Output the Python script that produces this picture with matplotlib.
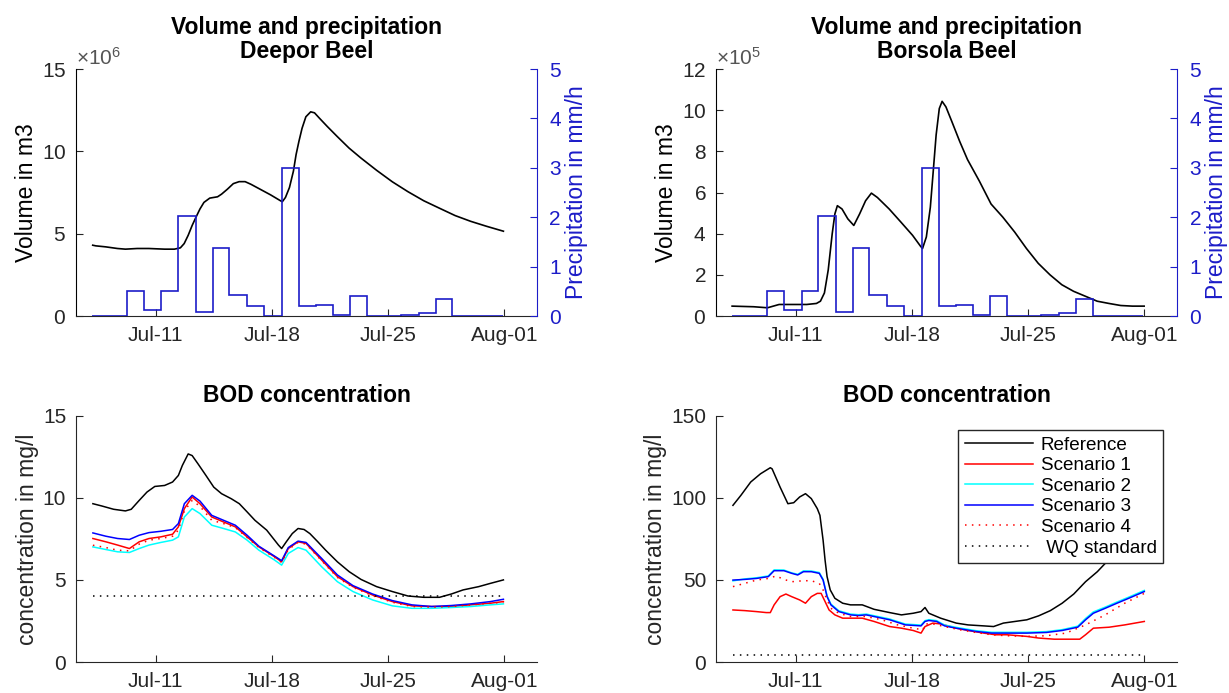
import numpy as np
import pandas as pd
import matplotlib
matplotlib.use("Agg")
import matplotlib.pyplot as plt
import matplotlib.dates as mdates
from matplotlib.ticker import ScalarFormatter

plt.rcParams['font.family'] = ['Liberation Sans', 'DejaVu Sans']
plt.rcParams['mathtext.fontset'] = 'custom'
plt.rcParams['mathtext.rm'] = 'Liberation Sans'

# ---- data (times are day of July, 32 = Aug 1) ----
rain_edges = [7.17, 8.23, 9.29, 10.31, 11.35, 12.37, 13.43, 14.45, 15.44, 16.51, 17.52, 18.59,
              19.63, 20.64, 21.66, 22.72, 23.72, 24.76, 25.8, 26.84, 27.86, 28.88, 29.9, 30.92, 31.95]
rain = [0, 0, 0.5, 0.13, 0.5, 2.03, 0.09, 1.38, 0.43, 0.2, 0, 3.0,
        0.2, 0.23, 0.03, 0.4, 0, 0, 0.03, 0.07, 0.35, 0, 0, 0]

deepor_t = [7.21, 7.40, 7.99, 8.70, 9.18, 9.89, 10.59, 11.54, 12.13, 12.49, 12.72, 12.96, 13.20, 13.43,
            13.67, 13.91, 14.26, 14.73, 14.97, 15.32, 15.68, 16.03, 16.39, 16.74, 17.22, 17.92, 18.52,
            18.63, 18.82, 19.06, 19.30, 19.46, 19.63, 19.82, 20.05, 20.34, 20.57, 20.88, 21.35, 21.94,
            22.65, 23.36, 24.31, 25.26, 26.20, 27.15, 28.09, 29.04, 29.98, 30.93, 31.95]
deepor_vol = [4.3e6, 4.26e6, 4.2e6, 4.1e6, 4.06e6, 4.1e6, 4.1e6, 4.06e6, 4.06e6, 4.14e6, 4.4e6, 4.9e6,
              5.5e6, 6.0e6, 6.5e6, 6.9e6, 7.16e6, 7.24e6, 7.4e6, 7.7e6, 8.04e6, 8.16e6, 8.16e6, 8.0e6,
              7.74e6, 7.36e6, 7.0e6, 6.94e6, 7.2e6, 7.8e6, 8.8e6, 9.8e6, 10.6e6, 11.4e6, 12.1e6, 12.4e6,
              12.34e6, 12.0e6, 11.5e6, 10.9e6, 10.2e6, 9.6e6, 8.85e6, 8.15e6, 7.55e6, 7.0e6, 6.55e6,
              6.1e6, 5.75e6, 5.45e6, 5.15e6]

borsola_t = [7.17, 8.47, 9.30, 10.0, 10.72, 11.66, 12.25, 12.49, 12.73, 12.96, 13.20, 13.36, 13.51,
             13.79, 14.14, 14.50, 14.85, 15.21, 15.56, 15.92, 16.63, 17.34, 18.04, 18.52, 18.64, 18.87,
             19.11, 19.27, 19.46, 19.65, 19.82, 20.05, 20.41, 20.88, 21.35, 22.06, 22.77, 23.48, 24.19,
             24.90, 25.61, 26.32, 27.03, 27.74, 28.45, 29.16, 29.87, 30.58, 31.28, 31.99]
borsola_vol = [0.48e5, 0.45e5, 0.4e5, 0.56e5, 0.56e5, 0.56e5, 0.61e5, 0.72e5, 1.12e5, 2.24e5, 4.0e5,
               4.96e5, 5.36e5, 5.2e5, 4.72e5, 4.4e5, 4.96e5, 5.6e5, 5.97e5, 5.76e5, 5.2e5, 4.56e5,
               3.92e5, 3.39e5, 3.28e5, 3.84e5, 5.28e5, 6.88e5, 8.8e5, 10.08e5, 10.43e5, 10.16e5, 9.44e5,
               8.48e5, 7.6e5, 6.56e5, 5.44e5, 4.8e5, 4.08e5, 3.28e5, 2.56e5, 2.0e5, 1.52e5, 1.2e5,
               0.96e5, 0.72e5, 0.61e5, 0.51e5, 0.48e5, 0.48e5]

# BOD Deepor Beel
d_ref_t = [7.22, 7.76, 8.47, 9.18, 9.53, 10.01, 10.48, 10.95, 11.54, 12.02, 12.37, 12.61, 12.96, 13.20,
           13.55, 14.03, 14.50, 14.97, 15.56, 16.04, 16.51, 16.98, 17.69, 18.40, 18.59, 18.87, 19.23,
           19.58, 19.94, 20.29, 20.77, 21.24, 21.95, 22.66, 23.37, 24.31, 25.26, 26.20, 27.15, 28.10,
           28.81, 29.52, 30.46, 31.17, 31.95]
d_ref = [9.64, 9.5, 9.3, 9.2, 9.3, 9.84, 10.35, 10.69, 10.75, 10.96, 11.36, 11.97, 12.67, 12.57, 12.07,
         11.36, 10.65, 10.25, 9.94, 9.64, 9.14, 8.63, 8.03, 7.12, 6.91, 7.32, 7.82, 8.13, 8.07, 7.82,
         7.32, 6.81, 6.1, 5.5, 5.03, 4.59, 4.29, 4.02, 3.94, 3.94, 4.14, 4.39, 4.59, 4.79, 5.0]
d_scen_t = [7.22, 8.00, 8.71, 9.42, 10.01, 10.60, 11.31, 12.02, 12.37, 12.73, 13.20, 13.67, 14.38, 15.09,
            15.80, 16.51, 17.22, 18.16, 18.59, 18.99, 19.58, 20.06, 21.00, 21.95, 22.89, 24.07, 25.26,
            26.44, 27.62, 28.81, 29.99, 31.17, 31.95]
d_s1 = [7.52, 7.32, 7.12, 6.91, 7.32, 7.52, 7.62, 7.78, 8.23, 9.34, 10.05, 9.64, 8.83, 8.53, 8.23, 7.62,
        7.01, 6.41, 6.1, 6.91, 7.32, 7.22, 6.21, 5.2, 4.59, 4.08, 3.68, 3.42, 3.38, 3.38, 3.48, 3.58, 3.68]
d_s2 = [7.01, 6.85, 6.71, 6.67, 6.91, 7.12, 7.28, 7.42, 7.62, 8.83, 9.34, 9.04, 8.33, 8.13, 7.92, 7.42,
        6.81, 6.21, 5.9, 6.61, 6.97, 6.81, 5.8, 4.89, 4.29, 3.78, 3.42, 3.27, 3.27, 3.32, 3.38, 3.48, 3.54]
d_s3 = [7.86, 7.66, 7.52, 7.46, 7.72, 7.88, 7.96, 8.07, 8.43, 9.64, 10.15, 9.8, 8.93, 8.63, 8.33, 7.72,
        7.05, 6.45, 6.17, 6.97, 7.36, 7.28, 6.31, 5.3, 4.65, 4.14, 3.74, 3.48, 3.38, 3.44, 3.54, 3.68, 3.82]
d_s4 = [7.11, 6.97, 6.81, 6.77, 7.18, 7.42, 7.52, 7.66, 8.03, 9.2, 9.84, 9.48, 8.63, 8.43, 8.19, 7.58,
        6.97, 6.37, 6.06, 6.85, 7.28, 7.18, 6.17, 5.15, 4.55, 4.04, 3.64, 3.38, 3.34, 3.38, 3.48, 3.58, 3.64]
d_std_t = [7.22, 31.95]
d_std = [4, 4]

# BOD Borsola Beel
b_ref_t = [7.22, 7.70, 8.29, 8.88, 9.47, 9.58, 10.06, 10.53, 10.88, 11.24, 11.59, 11.94, 12.30, 12.46,
           12.65, 12.77, 12.89, 13.08, 13.36, 13.83, 14.30, 15.01, 15.72, 16.66, 17.37, 18.08, 18.55,
           18.79, 19.02, 19.73, 20.67, 21.38, 22.33, 22.92, 23.51, 24.21, 24.92, 25.63, 26.34, 27.05,
           27.75, 28.46, 29.17, 29.64, 30.23, 30.82, 31.4, 32.0]
b_ref = [95.4, 101.5, 109.6, 114.6, 118.3, 117.6, 106.5, 96.4, 97.0, 100.5, 102.5, 99.5, 93.4, 89.3,
         74.2, 62, 52, 43.9, 38.8, 35.8, 34.8, 34.8, 32.1, 30.1, 28.7, 29.7, 30.7, 33.2, 29.7, 26.7,
         23.7, 22.6, 22.0, 21.6, 23.7, 24.7, 25.7, 28.1, 31.3, 35.8, 41.4, 48.9, 55, 60, 68, 76, 84, 92]
b_s1_t = [7.22, 7.93, 8.64, 9.23, 9.47, 9.70, 10.06, 10.41, 10.76, 11.24, 11.59, 11.94, 12.30, 12.53,
          12.77, 13.01, 13.36, 13.83, 14.30, 15.01, 15.72, 16.66, 17.37, 18.08, 18.55, 18.79, 19.26,
          19.73, 20.67, 21.38, 22.33, 23.03, 23.74, 24.92, 25.63, 26.57, 27.52, 28.11, 28.46, 28.93,
          29.88, 30.82, 32.00]
b_s1 = [31.7, 31.3, 30.7, 30.1, 30.1, 34.8, 39.8, 41.4, 39.8, 37.8, 35.8, 39.8, 41.8, 41.8, 36.8, 31.7,
        28.7, 26.7, 26.7, 26.7, 24.7, 21.6, 20.6, 19.2, 17.6, 21.6, 23.7, 23.2, 20.6, 19.2, 17.6, 16.6,
        16.6, 15.6, 14.6, 13.9, 13.9, 13.9, 16.6, 20.6, 21.2, 22.6, 24.7]
b_s23_t = [7.22, 7.93, 8.64, 9.35, 9.70, 10.29, 10.76, 11.12, 11.47, 11.94, 12.42, 12.65, 12.89, 13.12,
           13.60, 14.30, 14.78, 15.25, 15.72, 16.66, 17.61, 18.55, 18.79, 19.02, 19.49, 19.97, 20.67,
           21.85, 22.80, 23.74, 24.92, 26.10, 27.05, 27.99, 28.46, 28.93, 29.64, 30.35, 31.06, 32.00]
b_s2 = [49.4, 50.6, 51.3, 52.4, 56.1, 56.0, 54.3, 53.4, 55.5, 55.4, 54.5, 50.4, 40.3, 35.3, 31.2, 29.2,
        28.8, 29.2, 28.2, 26.2, 23.1, 22.5, 25.2, 25.8, 25.2, 22.5, 21.1, 19.1, 18.1, 18.1, 18.1, 18.5,
        19.7, 21.8, 26.5, 30.5, 33.4, 36.5, 39.5, 43.6]
b_s3 = [49.9, 50.3, 50.9, 52.0, 55.6, 55.6, 54.0, 53.0, 55.0, 55.0, 54.0, 49.9, 39.8, 34.8, 30.7, 28.7,
        28.3, 28.7, 27.7, 25.7, 22.6, 22.0, 24.7, 25.3, 24.7, 22.0, 20.6, 18.6, 17.6, 17.6, 17.6, 18.0,
        19.2, 21.2, 25.7, 29.7, 32.7, 35.8, 38.8, 42.9]
b_s4_t = [7.22, 7.93, 8.64, 9.35, 9.82, 10.29, 10.76, 11.47, 11.94, 12.42, 12.65, 12.89, 13.12, 13.60,
          14.30, 15.25, 16.19, 17.14, 18.08, 18.67, 18.79, 19.26, 19.97, 20.91, 21.85, 22.80, 23.74,
          24.92, 26.10, 27.28, 28.46, 29.64, 30.82, 32.00]
b_s4 = [45.9, 47.9, 49.9, 50.9, 52.4, 50.3, 48.9, 49.5, 49.5, 47.9, 43.9, 37.8, 32.7, 29.7, 27.7, 27.7,
        25.7, 22.6, 20.6, 19.6, 23.2, 23.2, 21.6, 19.6, 18.0, 16.6, 16.0, 15.6, 16.0, 17.6, 22.6, 28.7,
        35.8, 41.8]
b_std_t = [7.22, 32.0]
b_std = [4, 4]

legend_labels = ['Reference', 'Scenario 1', 'Scenario 2', 'Scenario 3', 'Scenario 4', ' WQ standard']
xlim_days = [6.2, 33.97]


def dn(days):
    days = np.asarray(days, dtype=float)
    return mdates.date2num(pd.Timestamp('2016-07-01')) + days - 1


GRAY = '#262626'
BLUE = '#1c1cc8'
TICK_FS = 15
LAB_FS = 16.5


def style_time_axis(ax):
    ax.set_xlim(dn(xlim_days))
    ax.xaxis.set_major_locator(mdates.DayLocator(bymonthday=(1, 11, 18, 25)))
    ax.xaxis.set_major_formatter(mdates.DateFormatter('%b-%d'))
    ax.spines['top'].set_visible(False)
    ax.spines['right'].set_visible(False)
    ax.spines['bottom'].set_color(GRAY)
    ax.tick_params(axis='both', direction='in', length=5, width=0.8, labelsize=TICK_FS,
                   colors=GRAY, pad=7)
    ax.tick_params(top=False, right=False)


def volume_panel(ax, t, vol, ymax, yticks, power, place):
    ax.plot(dn(t), vol, color='black', lw=1.2, zorder=3)
    style_time_axis(ax)
    ax.spines['left'].set_color('black')
    ax.set_ylim(0, ymax)
    ax.set_yticks(yticks)
    fmt = ScalarFormatter(useMathText=True)
    fmt.set_powerlimits((power, power))
    ax.yaxis.set_major_formatter(fmt)
    ax.yaxis.get_offset_text().set_fontsize(TICK_FS)
    ax.yaxis.get_offset_text().set_color('#555555')
    ax.set_ylabel('Volume in m3', fontsize=LAB_FS, color='black', labelpad=3)
    ax.set_title('Volume and precipitation\n' + place, fontsize=LAB_FS, fontweight='bold',
                 linespacing=1.05, pad=8)

    ax2 = ax.twinx()
    ax2.stairs(rain, dn(rain_edges), color=BLUE, lw=1.2, baseline=None)
    ax2.set_ylim(0, 5)
    ax2.set_yticks([0, 1, 2, 3, 4, 5])
    for s in ['top', 'left', 'bottom']:
        ax2.spines[s].set_visible(False)
    ax2.spines['right'].set_color(BLUE)
    ax2.tick_params(axis='y', direction='in', length=5, width=0.8, labelsize=TICK_FS,
                    colors=BLUE, pad=9)
    ax2.set_ylabel('Precipitation in mm/h', fontsize=LAB_FS, color=BLUE, labelpad=3)
    ax2.set_xlim(dn(xlim_days))


def bod_panel(ax, series, ymax, yticks):
    for t, v, c, ls in series:
        ax.plot(dn(t), v, color=c, lw=1.1, linestyle=ls)
    style_time_axis(ax)
    ax.spines['left'].set_color(GRAY)
    ax.set_ylim(0, ymax)
    ax.set_yticks(yticks)
    ax.set_ylabel('concentration in mg/l', fontsize=LAB_FS, color=GRAY, labelpad=3)
    ax.set_title('BOD concentration', fontsize=LAB_FS, fontweight='bold', pad=10)


DOT = (0, (1, 3.5))

fig = plt.figure(figsize=(12.29, 6.93), dpi=100)
ax_tl = fig.add_axes([0.0618, 0.544, 0.3751, 0.3564])
ax_tr = fig.add_axes([0.5826, 0.544, 0.3751, 0.3564])
ax_bl = fig.add_axes([0.0618, 0.0447, 0.3751, 0.3555])
ax_br = fig.add_axes([0.5826, 0.0447, 0.3751, 0.3555])

volume_panel(ax_tl, deepor_t, deepor_vol, 15e6, [0, 5e6, 10e6, 15e6], 6, 'Deepor Beel')
volume_panel(ax_tr, borsola_t, borsola_vol, 12e5, [0, 2e5, 4e5, 6e5, 8e5, 10e5, 12e5], 5,
             'Borsola Beel')

bod_panel(ax_bl, [
    (d_ref_t, d_ref, 'black', '-'),
    (d_scen_t, d_s1, 'red', '-'),
    (d_scen_t, d_s2, 'cyan', '-'),
    (d_scen_t, d_s3, 'blue', '-'),
    (d_scen_t, d_s4, 'red', DOT),
    (d_std_t, d_std, 'black', DOT),
], 15, [0, 5, 10, 15])

bod_panel(ax_br, [
    (b_ref_t, b_ref, 'black', '-'),
    (b_s1_t, b_s1, 'red', '-'),
    (b_s23_t, b_s2, 'cyan', '-'),
    (b_s23_t, b_s3, 'blue', '-'),
    (b_s4_t, b_s4, 'red', DOT),
    (b_std_t, b_std, 'black', DOT),
], 150, [0, 50, 100, 150])

leg = ax_br.legend(ax_br.get_lines(), legend_labels, loc='upper right',
                   bbox_to_anchor=(0.970, 0.943), borderaxespad=0, fontsize=13.6,
                   fancybox=False, framealpha=1, edgecolor=GRAY, handlelength=3.6,
                   handletextpad=0.4, labelspacing=0.18, borderpad=0.35)
leg.get_frame().set_linewidth(1.0)

fig.savefig('out.png', dpi=100)
